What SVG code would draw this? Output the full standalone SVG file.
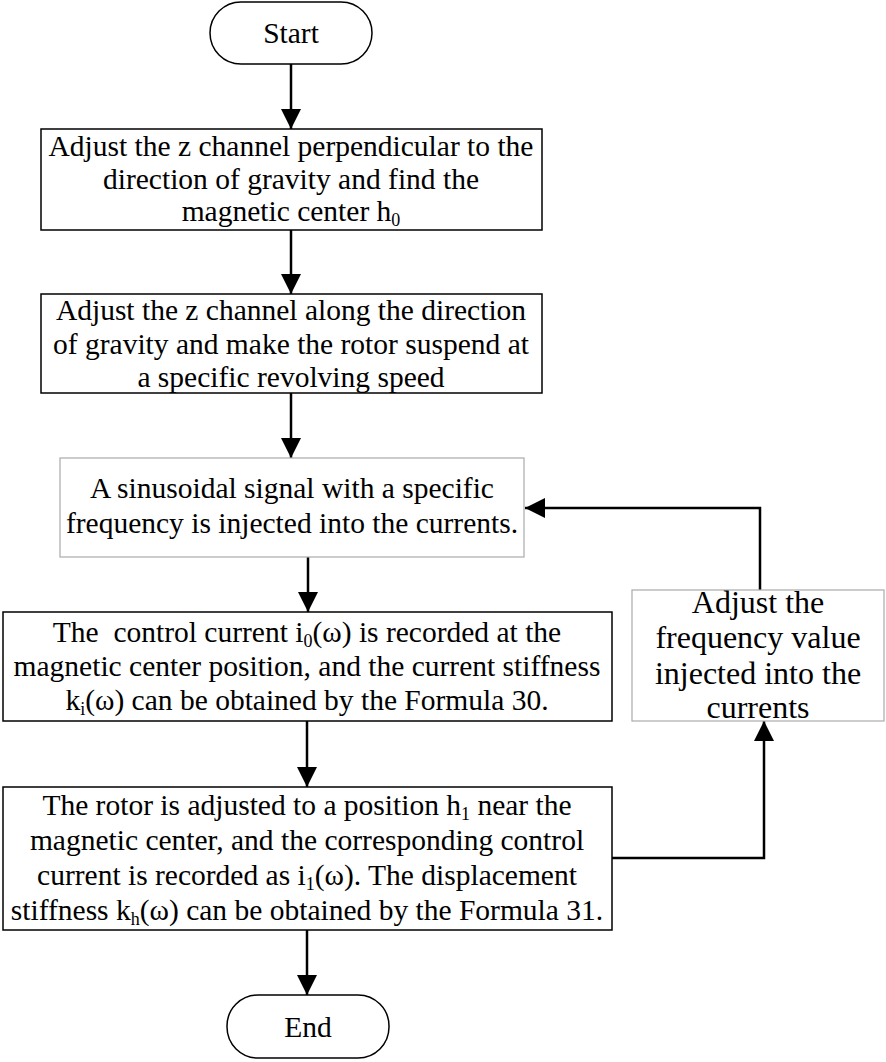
<svg xmlns="http://www.w3.org/2000/svg" width="886" height="1062" viewBox="0 0 886 1062">
<style>
.t{font-family:'Liberation Serif','Times New Roman',Times,serif;font-size:29.5px;fill:#000;text-anchor:middle}
.big{font-size:32px}
.box{fill:#fff;stroke:#000;stroke-width:1.5}
.gbox{fill:#fff;stroke:#aaa;stroke-width:1.2}
.term{fill:#fff;stroke:#000;stroke-width:1.5}
.sub{font-size:18px}
.con{fill:none;stroke:#000;stroke-width:2.5}
</style>
<defs>
<marker id="ahl" viewBox="0 0 10 10" refX="10" refY="5" markerWidth="8" markerHeight="8" orient="auto"><path d="M0,0 L10,5 L0,10 z" fill="#000"/></marker>
</defs>
<g id="connectors">
<path class="con" d="M291,64 V129" marker-end="url(#ahl)"/>
<path class="con" d="M291,230 V294" marker-end="url(#ahl)"/>
<path class="con" d="M291,393 V458" marker-end="url(#ahl)"/>
<path class="con" d="M308,557 V612" marker-end="url(#ahl)"/>
<path class="con" d="M307,721 V787" marker-end="url(#ahl)"/>
<path class="con" d="M307,930 V995" marker-end="url(#ahl)"/>
<path class="con" d="M612,858 H764 V721" marker-end="url(#ahl)"/>
<path class="con" d="M760,590 V508 H525" marker-end="url(#ahl)"/>
</g>
<g font-family="'Liberation Serif', 'Times New Roman', serif" font-size="29.5" text-anchor="middle">
<g id="start">
<rect class="term" x="210" y="2" width="162" height="62" rx="31" ry="31"/>
<text class="t" x="291" y="43">Start</text>
</g>
<g id="step1">
<rect class="box" x="41" y="129" width="501" height="101"/>
<text class="t" x="291" y="156">Adjust the z channel perpendicular to the</text>
<text class="t" x="291" y="189">direction of gravity and find the</text>
<text class="t" x="291" y="221">magnetic center h<tspan class="sub" dy="5">0</tspan></text>
</g>
<g id="step2">
<rect class="box" x="41" y="294" width="501" height="99"/>
<text class="t" x="291" y="320">Adjust the z channel along the direction</text>
<text class="t" x="291" y="354">of gravity and make the rotor suspend at</text>
<text class="t" x="291" y="387">a specific revolving speed</text>
</g>
<g id="step3">
<rect class="gbox" x="60" y="458" width="464" height="99"/>
<text class="t" x="292" y="498">A sinusoidal signal with a specific</text>
<text class="t" x="292" y="533">frequency is injected into the currents.</text>
</g>
<g id="step4">
<rect class="box" x="3" y="612" width="609" height="109"/>
<text class="t" x="307" y="642" xml:space="preserve">The  control current i<tspan class="sub" dy="5">0</tspan><tspan dy="-5">(ω) is recorded at the</tspan></text>
<text class="t" x="307" y="676">magnetic center position, and the current stiffness</text>
<text class="t" x="307" y="710">k<tspan class="sub" dy="5">i</tspan><tspan dy="-5">(ω) can be obtained by the Formula 30.</tspan></text>
</g>
<g id="adjust">
<rect class="gbox" x="632" y="590" width="252" height="131"/>
<text class="t big" x="758" y="613">Adjust the</text>
<text class="t big" x="758" y="648">frequency value</text>
<text class="t big" x="758" y="684">injected into the</text>
<text class="t big" x="758" y="718">currents</text>
</g>
<g id="step5">
<rect class="box" x="3" y="787" width="609" height="143"/>
<text class="t" x="307" y="815">The rotor is adjusted to a position h<tspan class="sub" dy="5">1</tspan><tspan dy="-5"> near the</tspan></text>
<text class="t" x="307" y="850">magnetic center, and the corresponding control</text>
<text class="t" x="307" y="885">current is recorded as i<tspan class="sub" dy="5">1</tspan><tspan dy="-5">(ω). The displacement</tspan></text>
<text class="t" x="307" y="920">stiffness k<tspan class="sub" dy="5">h</tspan><tspan dy="-5">(ω) can be obtained by the Formula 31.</tspan></text>
</g>
<g id="end">
<rect class="term" x="227" y="995" width="162" height="63" rx="31" ry="31"/>
<text class="t" x="308" y="1037">End</text>
</g>
</g>
</svg>
